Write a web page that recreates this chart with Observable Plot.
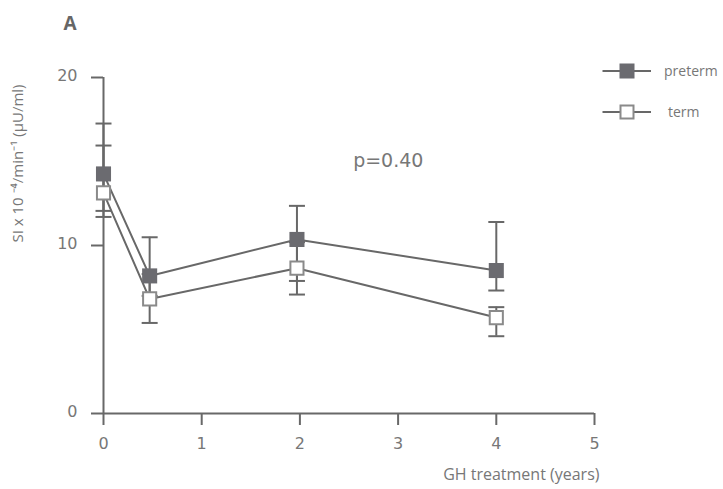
<!DOCTYPE html>
<html><head><meta charset="utf-8">
<script src="https://cdn.jsdelivr.net/npm/d3@7"></script>
<script src="https://cdn.jsdelivr.net/npm/@observablehq/plot@0.6"></script>
<style>
body{margin:0;background:#fff;}
#wrap{position:relative;width:723px;height:489px;font-family:"Open Sans",sans-serif;color:#777;}
.lg{position:absolute;display:flex;align-items:center;font-size:14px;color:#777;}
.lg svg{display:block}
</style></head><body><div id="wrap"></div>
<script>
// data
const times = [0, 0.47, 1.97, 4];
const pretermMean = [14.26, 8.19, 10.36, 8.51];
const pretermLo   = [11.70, 7.00, 7.89, 7.32];
const pretermHi   = [17.26, 10.49, 12.36, 11.40];
const termMean    = [13.13, 6.82, 8.65, 5.71];
const termLo      = [12.06, 5.39, 7.08, 4.60];
const termHi      = [15.95, 8.30, 10.20, 6.33];
const xTicks = [0, 1, 2, 3, 4, 5];
const yTicks = [0, 10, 20];
const seriesNames = ["preterm", "term"];
const annotText = ["p=0.40"];
const annotX = [2.9];
const annotY = [15.05];

const rows = (name, m, lo, hi) => times.map((t, i) => ({series: name, t, mean: m[i], lo: lo[i], hi: hi[i]}));
const pre = rows(seriesNames[0], pretermMean, pretermLo, pretermHi);
const trm = rows(seriesNames[1], termMean, termLo, termHi);
const annot = annotText.map((s, i) => ({s, x: annotX[i], y: annotY[i]}));

const axisColor = "#686868";
const textColor = "#777777";
const numFont = '"DejaVu Sans", sans-serif';
const hline = {draw(ctx, size){const r = Math.sqrt(size/Math.PI); ctx.moveTo(-r,0); ctx.lineTo(r,0);}};

const plot = Plot.plot({
  width: 723, height: 489,
  marginLeft: 103, marginRight: 129, marginTop: 77, marginBottom: 76,
  style: {fontFamily: '"Open Sans", sans-serif', fontSize: "16px", color: textColor, background: "#fff"},
  x: {domain: [0, 5]},
  y: {domain: [0, 20]},
  marks: [
    Plot.ruleX([0], {y1: 0, y2: 20, stroke: axisColor, strokeWidth: 2}),
    Plot.ruleY([0], {x1: 0, x2: 5, stroke: axisColor, strokeWidth: 2}),
    Plot.axisX({ticks: xTicks, tickSize: 12, tickPadding: 12, stroke: axisColor, strokeWidth: 2, fill: textColor, fontSize: 16, fontFamily: numFont, label: null, tickFormat: d => String(d)}),
    Plot.axisY({ticks: yTicks, tickSize: 12, stroke: axisColor, strokeWidth: 2, label: null, tickFormat: () => ""}),
    Plot.axisY({ticks: yTicks, tickSize: 0, tickPadding: 26, dy: -2, fill: textColor, fontSize: 16, fontFamily: numFont, label: null, tickFormat: d => String(d)}),
    Plot.text(["GH treatment (years)"], {frameAnchor: "bottom-right", dx: 5, dy: 66, textAnchor: "end", lineAnchor: "bottom", fill: textColor, fontSize: 16}),
    Plot.text(["SI x 10 \u207B\u2074/min\u207B\u00B9 (\u00B5U/ml)"], {frameAnchor: "top-left", dx: -85, dy: 86, rotate: -90, textAnchor: "middle", lineAnchor: "middle", fill: textColor, fontSize: 15}),
    Plot.text(["A"], {frameAnchor: "top-left", dx: -40, dy: -54, textAnchor: "start", lineAnchor: "middle", fill: "#666", fontSize: 19, fontWeight: "bold"}),
    Plot.text(annot, {x: "x", y: "y", text: "s", textAnchor: "middle", lineAnchor: "middle", fill: textColor, fontSize: 19, fontFamily: numFont}),
    // error bars
    Plot.ruleX([...pre, ...trm], {x: "t", y1: "lo", y2: "hi", stroke: axisColor, strokeWidth: 2}),
    Plot.dot([...pre, ...trm], {x: "t", y: "lo", symbol: hline, r: 8, stroke: axisColor, strokeWidth: 2, fill: "none"}),
    Plot.dot([...pre, ...trm], {x: "t", y: "hi", symbol: hline, r: 8, stroke: axisColor, strokeWidth: 2, fill: "none"}),
    // lines
    Plot.line(trm, {x: "t", y: "mean", stroke: axisColor, strokeWidth: 2}),
    Plot.line(pre, {x: "t", y: "mean", stroke: axisColor, strokeWidth: 2}),
    // markers
    Plot.dot(trm, {x: "t", y: "mean", symbol: "square", r: 7.4, fill: "#fff", stroke: "#8a8a8a", strokeWidth: 2}),
    Plot.dot(pre, {x: "t", y: "mean", symbol: "square", r: 8.5, fill: "#6b6b70", stroke: "none"})
  ]
});
const wrap = document.getElementById("wrap");
wrap.appendChild(plot);

// legend
function legendRow(name, top, textLeft, filled){
  const d = document.createElement("div");
  d.className = "lg";
  d.style.left = "602px"; d.style.top = (top - 9) + "px";
  const ns = "http://www.w3.org/2000/svg";
  const s = document.createElementNS(ns, "svg");
  s.setAttribute("width", textLeft - 602); s.setAttribute("height", 18);
  const l = document.createElementNS(ns, "line");
  l.setAttribute("x1", 0.5); l.setAttribute("x2", 49); l.setAttribute("y1", 9); l.setAttribute("y2", 9);
  l.setAttribute("stroke", axisColor); l.setAttribute("stroke-width", 2);
  s.appendChild(l);
  const r = document.createElementNS(ns, "rect");
  if (filled){ r.setAttribute("x", 17.5); r.setAttribute("y", 1.5); r.setAttribute("width", 15); r.setAttribute("height", 15); r.setAttribute("fill", "#6b6b70"); }
  else { r.setAttribute("x", 18.5); r.setAttribute("y", 2.5); r.setAttribute("width", 13); r.setAttribute("height", 13); r.setAttribute("fill", "#fff"); r.setAttribute("stroke", "#8a8a8a"); r.setAttribute("stroke-width", 2); }
  s.appendChild(r);
  d.appendChild(s);
  const t = document.createElement("span");
  t.textContent = name;
  d.appendChild(t);
  wrap.appendChild(d);
}
legendRow(seriesNames[0], 70, 664, true);
legendRow(seriesNames[1], 111, 668, false);
</script></body></html>
